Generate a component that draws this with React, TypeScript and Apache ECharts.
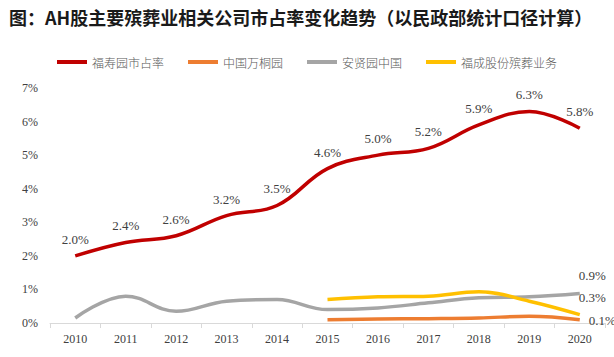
import React, { useEffect, useRef } from "react";
import * as echarts from "echarts";

const years = ["2010","2011","2012","2013","2014","2015","2016","2017","2018","2019","2020"];
const fsy = [2.0, 2.4, 2.6, 3.2, 3.5, 4.6, 5.0, 5.2, 5.9, 6.3, 5.8];
const wty = [null, null, null, null, null, 0.1, 0.12, 0.13, 0.15, 0.2, 0.1];
const axy = [0.15, 0.8, 0.35, 0.65, 0.7, 0.4, 0.45, 0.6, 0.75, 0.78, 0.88];
const fc = [null, null, null, null, null, 0.7, 0.78, 0.8, 0.93, 0.65, 0.25];
const endLabels = { wty: "0.1%", axy: "0.9%", fc: "0.3%" };
const yTicks = [0, 1, 2, 3, 4, 5, 6, 7];

const serif = "'Liberation Serif', 'Times New Roman', serif";
const cjk = "'Noto Sans CJK SC', sans-serif";

export default function App() {
  const ref = useRef<HTMLDivElement>(null);
  useEffect(() => {
    const chart = echarts.init(ref.current!, null, { renderer: "svg" });
    const endLabel = (txt: string, off: number[]) => ({
      show: true,
      position: "right",
      offset: off,
      fontFamily: serif,
      fontSize: 13,
      color: "#404040",
      formatter: (p: any) => (p.dataIndex === years.length - 1 ? txt : ""),
    });
    const common = {
      type: "line",
      smooth: 0.4,
      showSymbol: true,
      symbol: "circle",
      symbolSize: 0.1,
    };
    chart.setOption({
      animation: false,
      title: {
        text: "图：AH股主要殡葬业相关公司市占率变化趋势（以民政部统计口径计算）",
        left: 4,
        top: 3,
        textStyle: { fontFamily: cjk, fontWeight: "bold", fontSize: 18, color: "#1a1a1a" },
      },
      legend: {
        top: 51,
        left: "center",
        itemWidth: 30,
        itemHeight: 4,
        itemGap: 24,
        icon: "rect",
        textStyle: { fontFamily: cjk, fontSize: 12, color: "#595959", fontWeight: 300 },
        data: ["福寿园市占率", "中国万桐园", "安贤园中国", "福成股份殡葬业务"],
      },
      grid: { left: 50, right: 9, top: 88, bottom: 34 },
      xAxis: {
        type: "category",
        data: years,
        boundaryGap: true,
        axisLine: { lineStyle: { color: "#D9D9D9", width: 1 } },
        axisTick: { show: true, alignWithLabel: false, lineStyle: { color: "#D9D9D9" } },
        axisLabel: { fontFamily: serif, fontSize: 12, color: "#404040", margin: 10 },
      },
      yAxis: {
        type: "value",
        min: yTicks[0],
        max: yTicks[yTicks.length - 1],
        interval: 1,
        splitLine: { show: false },
        axisLine: { show: false },
        axisTick: { show: false },
        axisLabel: { fontFamily: serif, fontSize: 12, color: "#404040", formatter: "{value}%", margin: 12 },
      },
      series: [
        {
          ...common,
          name: "福寿园市占率",
          data: fsy,
          lineStyle: { color: "#C00000", width: 3.5 },
          itemStyle: { color: "#C00000" },
          label: {
            show: true,
            position: "top",
            distance: 10,
            fontFamily: serif,
            fontSize: 13,
            color: "#404040",
            formatter: (p: any) => p.value.toFixed(1) + "%",
          },
          z: 5,
        },
        {
          ...common,
          name: "中国万桐园",
          data: wty,
          lineStyle: { color: "#ED7D31", width: 3.5 },
          itemStyle: { color: "#ED7D31" },
          label: endLabel(endLabels.wty, [4, 1]),
        },
        {
          ...common,
          name: "安贤园中国",
          data: axy,
          lineStyle: { color: "#A5A5A5", width: 3.5 },
          itemStyle: { color: "#A5A5A5" },
          label: endLabel(endLabels.axy, [-6, -18]),
        },
        {
          ...common,
          name: "福成股份殡葬业务",
          data: fc,
          lineStyle: { color: "#FFC000", width: 3.5 },
          itemStyle: { color: "#FFC000" },
          label: endLabel(endLabels.fc, [-6, -17]),
        },
      ],
    });
    return () => chart.dispose();
  }, []);
  return <div ref={ref} style={{ width: 614, height: 357, position: "absolute", left: 0, top: 0, background: "#fff" }} />;
}
